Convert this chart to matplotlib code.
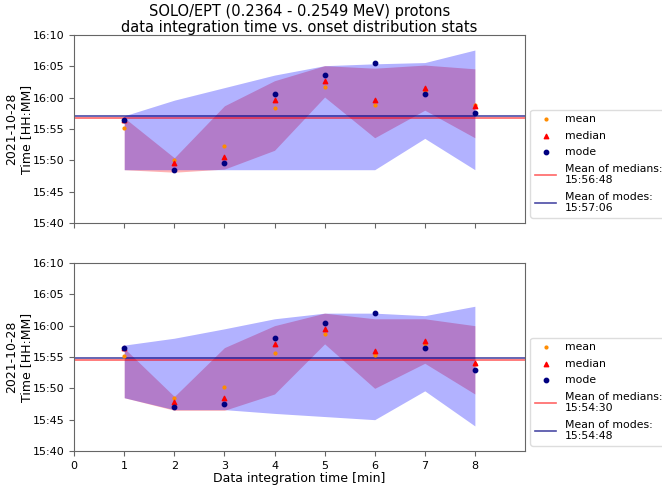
import datetime as dt
import matplotlib
matplotlib.use("Agg")
import matplotlib.pyplot as plt
import matplotlib.dates as mdates

# integration times [min]
int_times = [1, 2, 3, 4, 5, 6, 7, 8]

# all times are minutes after 2021-10-28 15:00
# --- top panel ---
top_mean = [55.2, 50.1, 52.3, 58.4, 61.7, 58.9, 61.0, 58.8]
top_median = [56.5, 49.5, 50.5, 59.6, 62.6, 59.6, 61.5, 58.7]
top_mode = [56.5, 48.5, 49.5, 60.6, 63.6, 65.6, 60.6, 57.5]
top_wide_lo = [48.5, 48.5, 48.5, 48.5, 48.5, 48.5, 53.5, 48.5]
top_wide_hi = [57.1, 59.6, 61.6, 63.6, 65.1, 65.4, 65.6, 67.6]
top_narrow_lo = [48.5, 48.1, 48.6, 51.6, 60.1, 53.6, 58.0, 53.6]
top_narrow_hi = [56.8, 50.4, 58.7, 62.7, 65.1, 64.7, 65.2, 64.6]
top_mean_median = 56.8   # 15:56:48
top_mean_mode = 57.1     # 15:57:06

# --- bottom panel ---
bot_mean = [55.2, 48.5, 50.2, 55.7, 58.6, 55.4, 57.0, 53.9]
bot_median = [56.4, 47.9, 48.4, 57.0, 59.5, 56.0, 57.5, 54.0]
bot_mode = [56.5, 47.0, 47.5, 58.0, 60.5, 62.0, 56.5, 53.0]
bot_wide_lo = [48.5, 46.6, 46.6, 46.0, 45.5, 45.0, 49.6, 44.0]
bot_wide_hi = [56.9, 58.0, 59.5, 61.1, 62.0, 62.0, 61.6, 63.1]
bot_narrow_lo = [48.5, 46.5, 46.5, 49.1, 57.1, 50.0, 54.0, 49.1]
bot_narrow_hi = [56.4, 48.7, 56.5, 60.0, 62.0, 61.1, 61.1, 60.0]
bot_mean_median = 54.5   # 15:54:30
bot_mean_mode = 54.8     # 15:54:48

t0 = dt.datetime(2021, 10, 28, 15, 0)


def to_dt(vals):
    return [t0 + dt.timedelta(minutes=v) for v in vals]


def hhmmss(m):
    return (t0 + dt.timedelta(minutes=m)).strftime('%H:%M:%S')


plt.rcParams['font.size'] = 7.8
plt.rcParams['font.family'] = ['DejaVu Sans']

fig, axes = plt.subplots(2, 1, figsize=(6.62, 4.86), dpi=100, sharex=True)
fig.subplots_adjust(left=0.112, right=0.793, top=0.928, bottom=0.072, hspace=0.213)

panels = [
    (top_mean, top_median, top_mode, top_wide_lo, top_wide_hi, top_narrow_lo, top_narrow_hi,
     top_mean_median, top_mean_mode),
    (bot_mean, bot_median, bot_mode, bot_wide_lo, bot_wide_hi, bot_narrow_lo, bot_narrow_hi,
     bot_mean_median, bot_mean_mode),
]

for ax, (mean, median, mode, wlo, whi, nlo, nhi, mmed, mmod) in zip(axes, panels):
    ax.fill_between(int_times, to_dt(nlo), to_dt(nhi), color='red', alpha=0.3, lw=0)
    ax.fill_between(int_times, to_dt(wlo), to_dt(whi), color='blue', alpha=0.3, lw=0)

    ax.scatter(int_times, to_dt(mean), s=4, marker='o', color='darkorange', zorder=3, label='mean')
    ax.scatter(int_times, to_dt(median), s=10, marker='^', color='red', zorder=3, label='median')
    ax.scatter(int_times, to_dt(mode), s=10, marker='o', color='navy', zorder=3, label='mode')

    ax.axhline(t0 + dt.timedelta(minutes=mmed), color='red', alpha=0.6, lw=1.2,
               label=f'Mean of medians:\n{hhmmss(mmed)}')
    ax.axhline(t0 + dt.timedelta(minutes=mmod), color='navy', alpha=0.7, lw=1.2,
               label=f'Mean of modes:\n{hhmmss(mmod)}')

    ax.set_ylim(t0 + dt.timedelta(minutes=40), t0 + dt.timedelta(minutes=70))
    ax.yaxis.set_major_locator(mdates.MinuteLocator(byminute=range(0, 60, 5)))
    ax.yaxis.set_major_formatter(mdates.DateFormatter('%H:%M'))
    ax.set_ylabel('2021-10-28\nTime [HH:MM]', fontsize=9, labelpad=0)
    ax.set_xlim(0, 9)
    ax.set_xticks(range(0, 9))
    for sp in ax.spines.values():
        sp.set_color('#666666')
    ax.tick_params(color='#666666', labelsize=8)
    ax.legend(loc='lower left', bbox_to_anchor=(1.0, 0.0), framealpha=1,
              edgecolor='#dddddd', fontsize=7.8, labelspacing=0.6)

axes[0].set_title('SOLO/EPT (0.2364 - 0.2549 MeV) protons\n'
                  'data integration time vs. onset distribution stats',
                  fontsize=10.5, pad=2, linespacing=1.05)
axes[1].set_xlabel('Data integration time [min]', fontsize=9, labelpad=1)

fig.savefig('out.png', dpi=100)
